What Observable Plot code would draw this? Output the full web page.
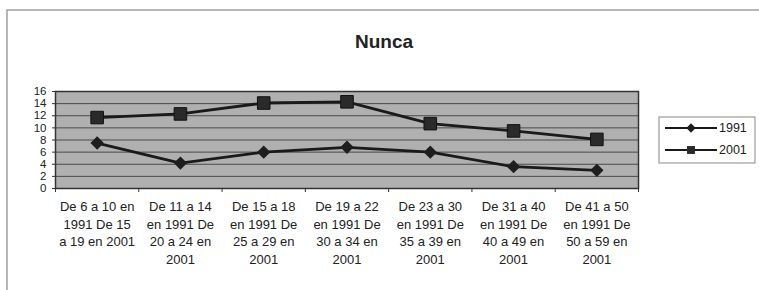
<!DOCTYPE html>
<html>
<head>
<meta charset="utf-8">
<script src="https://cdn.jsdelivr.net/npm/d3@7"></script>
<script src="https://cdn.jsdelivr.net/npm/@observablehq/plot@0.6"></script>
<style>
  html, body { margin: 0; padding: 0; background: #fff; }
  #chart { width: 759px; height: 290px; overflow: hidden; }
</style>
</head>
<body>
<div id="chart"></div>
<script>
const title = "Nunca";
const categories = [
  "De 6 a 10 en 1991 De 15 a 19 en 2001",
  "De 11 a 14 en 1991 De 20 a 24 en 2001",
  "De 15 a 18 en 1991 De 25 a 29 en 2001",
  "De 19 a 22 en 1991 De 30 a 34 en 2001",
  "De 23 a 30 en 1991 De 35 a 39 en 2001",
  "De 31 a 40 en 1991 De 40 a 49 en 2001",
  "De 41 a 50 en 1991 De 50 a 59 en 2001"
];
const tickLabels = [
  "De 6 a 10 en\n1991 De 15\na 19 en 2001",
  "De 11 a 14\nen 1991 De\n20 a 24 en\n2001",
  "De 15 a 18\nen 1991 De\n25 a 29 en\n2001",
  "De 19 a 22\nen 1991 De\n30 a 34 en\n2001",
  "De 23 a 30\nen 1991 De\n35 a 39 en\n2001",
  "De 31 a 40\nen 1991 De\n40 a 49 en\n2001",
  "De 41 a 50\nen 1991 De\n50 a 59 en\n2001"
];
const seriesNames = ["1991", "2001"];
const values1991 = [7.5, 4.2, 6.0, 6.8, 6.0, 3.6, 3.0];
const values2001 = [11.7, 12.3, 14.1, 14.3, 10.7, 9.5, 8.1];
const yTicks = [0, 2, 4, 6, 8, 10, 12, 14, 16];

const rows = [];
categories.forEach((c, i) => {
  rows.push({cat: c, idx: i, series: "1991", value: values1991[i]});
  rows.push({cat: c, idx: i, series: "2001", value: values2001[i]});
});
const r1991 = rows.filter(d => d.series === "1991");
const r2001 = rows.filter(d => d.series === "2001");
const labelRows = tickLabels.map((t, i) => ({t, idx: i}));

const plot = Plot.plot({
  width: 759,
  height: 290,
  marginTop: 91,
  marginBottom: 102,
  marginLeft: 55,
  marginRight: 121,
  style: {fontFamily: "Arial, 'Liberation Sans', sans-serif", background: "#fff", color: "#222"},
  x: {type: "linear", domain: [0, categories.length]},
  y: {domain: [0, 16]},
  marks: [
    Plot.frame({fill: "#b0b0b0", stroke: null}),
    Plot.gridY(yTicks, {stroke: "#4a4a4a", strokeOpacity: 1, strokeWidth: 1}),
    Plot.frame({stroke: "#333", strokeWidth: 1.5}),
    Plot.axisY(yTicks, {tickSize: 3, tickPadding: 6, fontSize: 11.5, label: null, stroke: "#333"}),
    Plot.axisX(d3.range(categories.length + 1), {tickSize: 4, tickFormat: () => "", label: null, stroke: "#333"}),
    Plot.text(labelRows, {
      x: d => d.idx + 0.5, text: "t", frameAnchor: "bottom", lineAnchor: "top",
      dy: 10, fontSize: 13, lineHeight: 1.36, fill: "#222"
    }),
    Plot.line(r1991, {x: d => d.idx + 0.5, y: "value", stroke: "#1a1a1a", strokeWidth: 2.8}),
    Plot.line(r2001, {x: d => d.idx + 0.5, y: "value", stroke: "#1a1a1a", strokeWidth: 2.8}),
    Plot.dot(r1991, {x: d => d.idx + 0.5, y: "value", symbol: "diamond2", r: 6, fill: "#1e1e1e", stroke: null}),
    Plot.dot(r2001, {x: d => d.idx + 0.5, y: "value", symbol: "square2", r: 8, fill: "#2a2a2a", stroke: "#111", strokeWidth: 1}),
    Plot.text([title], {frameAnchor: "top", dy: -57, dx: 37, fontSize: 19, fontWeight: "bold", fill: "#222"})
  ]
});

document.getElementById("chart").appendChild(plot);

// chart-area border and legend
const svg = d3.select(plot);
svg.append("path")
  .attr("d", "M7,290V10H759")
  .attr("fill", "none").attr("stroke", "#a0a0a0").attr("stroke-width", 1.5);

const lg = svg.append("g").attr("font-family", "Arial, 'Liberation Sans', sans-serif").attr("font-size", 12.5);
lg.append("rect").attr("x", 659).attr("y", 117).attr("width", 96).attr("height", 46)
  .attr("fill", "#fff").attr("stroke", "#888").attr("stroke-width", 1);
const entryY = [128, 150];
seriesNames.forEach((name, i) => {
  const yy = entryY[i];
  lg.append("line").attr("x1", 665).attr("x2", 717).attr("y1", yy).attr("y2", yy)
    .attr("stroke", "#1a1a1a").attr("stroke-width", 2.2);
  if (i === 0) {
    lg.append("path").attr("d", d3.symbol(d3.symbolDiamond2, 55)()).attr("transform", `translate(691,${yy})`).attr("fill", "#1e1e1e");
  } else {
    lg.append("path").attr("d", d3.symbol(d3.symbolSquare2, 80)()).attr("transform", `translate(691,${yy})`).attr("fill", "#2a2a2a");
  }
  lg.append("text").attr("x", 719).attr("y", yy).attr("dy", "0.35em")
    .attr("text-anchor", "start").attr("fill", "#222").text(name);
});
</script>
</body>
</html>
